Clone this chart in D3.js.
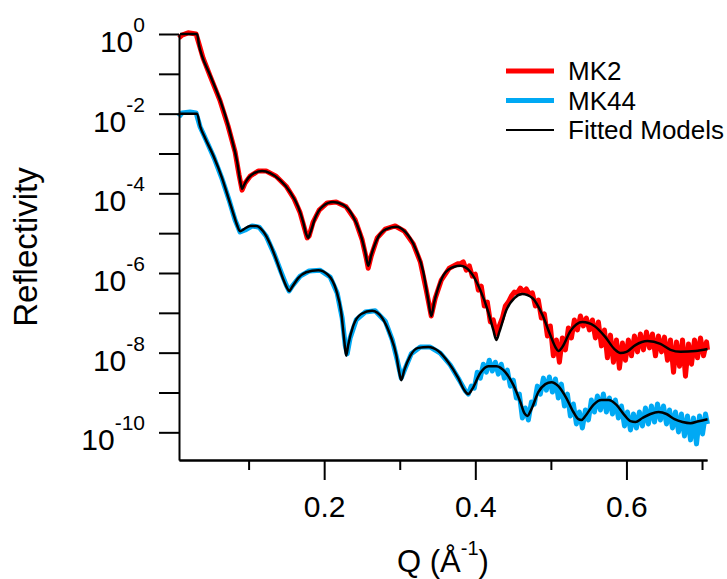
<!DOCTYPE html>
<html>
<head>
<meta charset="utf-8">
<script src="https://cdn.jsdelivr.net/npm/d3@7"></script>
<style>
body { margin: 0; background: #fff; }
text { font-family: Arial, "Liberation Sans", sans-serif; fill: #000; }
</style>
</head>
<body>
<script>
// reflectivity curves, [Q (1/A), log10 R]

var mk2Data = [[0.0079,-0.10],[0.0119,-0.03],[0.0199,0.03],[0.0305,0],[0.0344,-0.25],[0.0397,-0.60],[0.0490,-1.05],[0.0623,-1.68],[0.0728,-2.31],[0.0821,-2.96],
  [0.0874,-3.54],[0.0914,-3.92],[0.0954,-3.74],[0.1020,-3.57],[0.1126,-3.44],[0.1232,-3.44],[0.1364,-3.57],[0.1497,-3.82],[0.1603,-4.14],[0.1682,-4.49],
  [0.1735,-4.85],[0.1775,-5.12],[0.1801,-5.07],[0.1854,-4.72],[0.1934,-4.42],[0.2040,-4.24],[0.2159,-4.22],[0.2291,-4.34],[0.2411,-4.67],[0.2503,-5.17],
  [0.2556,-5.62],[0.2583,-5.88],[0.2623,-5.57],[0.2702,-5.12],[0.2808,-4.90],[0.2940,-4.82],[0.3060,-4.95],[0.3179,-5.27],[0.3272,-5.72],[0.3351,-6.43],
  [0.3417,-7.08],[0.3470,-6.63],[0.3550,-6.18],[0.3656,-5.88],[0.3762,-5.77],
  [0.3801,-5.77],[0.3841,-5.72],[0.3881,-5.93],[0.3921,-5.82],[0.3960,-6.08],[0.4000,-6.03],[0.4040,-6.43],[0.4079,-6.33],[0.4119,-6.83],[0.4159,-6.73],
  [0.4199,-7.23],[0.4238,-7.18],[0.4278,-7.53],[0.4318,-7.33],[0.4358,-7.13],[0.4397,-6.83],[0.4437,-6.73],[0.4477,-6.58],[0.4517,-6.48],[0.4556,-6.50],
  [0.4596,-6.38],[0.4636,-6.48],[0.4675,-6.40],[0.4715,-6.53],[0.4755,-6.50],[0.4795,-6.83],[0.4834,-6.68],[0.4874,-7.13],[0.4914,-7.03],[0.4954,-7.58],
  [0.4993,-7.33],[0.5033,-8.08],[0.5073,-7.68],[0.5113,-8.24],[0.5152,-7.63],[0.5192,-7.93],[0.5232,-7.38],[0.5272,-7.63],[0.5311,-7.18],[0.5351,-7.43],
  [0.5391,-7.08],[0.5430,-7.33],[0.5470,-7.13],[0.5510,-7.43],[0.5550,-7.18],[0.5589,-7.63],[0.5629,-7.23],[0.5669,-7.83],[0.5709,-7.43],[0.5748,-8.13],
  [0.5788,-7.56],[0.5828,-8.24],[0.5868,-7.68],[0.5907,-8.39],[0.5947,-7.76],[0.5987,-8.19],[0.6026,-7.68],[0.6066,-8.08],[0.6106,-7.58],[0.6146,-7.98],
  [0.6185,-7.53],[0.6225,-7.93],[0.6265,-7.48],[0.6305,-7.88],[0.6344,-7.53],[0.6384,-8.08],[0.6424,-7.58],[0.6464,-7.98],[0.6503,-7.61],[0.6543,-8.19],
  [0.6583,-7.68],[0.6623,-8.49],[0.6662,-7.73],[0.6702,-8.34],[0.6742,-7.68],[0.6781,-8.59],[0.6821,-7.78],[0.6861,-8.29],[0.6901,-7.68],[0.6940,-8.13],
  [0.6980,-7.63],[0.7020,-8.08],[0.7060,-7.73],[0.7073,-7.93]];

var mk44Data = [[0.0079,-2.08],[0.0119,-1.98],[0.0225,-1.96],[0.0305,-1.98],[0.0358,-2.33],[0.0437,-2.66],[0.0543,-3.11],[0.0649,-3.64],[0.0742,-4.17],[0.0821,-4.67],
  [0.0887,-4.97],[0.0954,-4.92],[0.1046,-4.82],[0.1139,-4.85],[0.1232,-5.07],[0.1338,-5.52],[0.1430,-5.98],[0.1497,-6.30],[0.1536,-6.45],[0.1589,-6.30],
  [0.1682,-6.08],[0.1801,-5.95],[0.1947,-5.93],[0.2079,-6.10],[0.2172,-6.50],[0.2238,-7.13],[0.2278,-7.81],[0.2305,-8.03],[0.2344,-7.63],[0.2424,-7.18],
  [0.2543,-6.98],[0.2675,-6.95],[0.2808,-7.21],[0.2901,-7.68],[0.2967,-8.19],[0.3020,-8.64],[0.3073,-8.39],[0.3152,-8.03],[0.3272,-7.86],[0.3404,-7.86],
  [0.3536,-8.01],[0.3669,-8.31],[0.3788,-8.69],[0.3868,-8.96],[0.3907,-9.04],
  [0.3947,-8.84],[0.3987,-8.89],[0.4026,-8.49],[0.4066,-8.64],[0.4106,-8.29],[0.4146,-8.49],[0.4185,-8.19],[0.4225,-8.46],[0.4265,-8.24],[0.4305,-8.54],
  [0.4344,-8.29],[0.4384,-8.64],[0.4424,-8.44],[0.4464,-8.84],[0.4503,-8.69],[0.4543,-9.14],[0.4583,-9.04],[0.4623,-9.64],[0.4662,-9.39],[0.4702,-9.69],
  [0.4742,-9.24],[0.4781,-9.29],[0.4821,-8.84],[0.4861,-9.04],[0.4901,-8.64],[0.4940,-8.94],[0.4980,-8.61],[0.5020,-8.99],[0.5060,-8.66],[0.5099,-9.14],
  [0.5139,-8.79],[0.5179,-9.34],[0.5219,-9.04],[0.5258,-9.59],[0.5298,-9.29],[0.5338,-9.79],[0.5377,-9.49],[0.5417,-9.89],[0.5457,-9.44],[0.5497,-9.69],
  [0.5536,-9.19],[0.5576,-9.49],[0.5616,-9.09],[0.5656,-9.44],[0.5695,-9.04],[0.5735,-9.49],[0.5775,-9.14],[0.5815,-9.54],[0.5854,-9.19],[0.5894,-9.64],
  [0.5934,-9.34],[0.5974,-9.84],[0.6013,-9.49],[0.6053,-9.94],[0.6093,-9.54],[0.6132,-9.89],[0.6172,-9.49],[0.6212,-9.84],[0.6252,-9.39],[0.6291,-9.79],
  [0.6331,-9.34],[0.6371,-9.74],[0.6411,-9.29],[0.6450,-9.69],[0.6490,-9.34],[0.6530,-9.79],[0.6570,-9.44],[0.6609,-9.89],[0.6649,-9.49],[0.6689,-9.99],
  [0.6728,-9.54],[0.6768,-10.09],[0.6808,-9.59],[0.6848,-10.19],[0.6887,-9.64],[0.6927,-10.29],[0.6967,-9.59],[0.7007,-10.04],[0.7046,-9.54],[0.7073,-9.79]];

var fitMk2 = [[0.0093,0],[0.0318,0],[0.0344,-0.28],[0.0384,-0.55],[0.0490,-1.03],[0.0623,-1.66],[0.0702,-2.11],[0.0781,-2.66],[0.0848,-3.21],[0.0887,-3.67],
  [0.0914,-3.89],[0.0940,-3.79],[0.0993,-3.62],[0.1073,-3.49],[0.1179,-3.44],[0.1285,-3.49],[0.1417,-3.67],[0.1550,-3.97],[0.1656,-4.34],[0.1722,-4.72],
  [0.1762,-5.02],[0.1788,-5.12],[0.1815,-5.00],[0.1881,-4.62],[0.1974,-4.34],[0.2119,-4.22],[0.2252,-4.29],[0.2371,-4.54],[0.2477,-5.00],[0.2543,-5.47],
  [0.2583,-5.82],[0.2623,-5.55],[0.2715,-5.10],[0.2821,-4.90],[0.2954,-4.84],[0.3073,-4.97],[0.3205,-5.37],[0.3311,-5.97],[0.3377,-6.68],[0.3417,-7.08],
  [0.3457,-6.73],[0.3536,-6.23],[0.3642,-5.92],[0.3801,-5.82],[0.3934,-5.97],[0.4066,-6.43],[0.4172,-6.98],[0.4238,-7.43],[0.4278,-7.68],[0.4318,-7.48],
  [0.4411,-6.93],[0.4517,-6.63],[0.4623,-6.53],[0.4755,-6.63],[0.4887,-7.05],[0.4993,-7.56],[0.5060,-7.86],[0.5099,-7.96],[0.5152,-7.86],[0.5258,-7.46],
  [0.5417,-7.23],[0.5576,-7.33],[0.5722,-7.61],[0.5841,-7.91],[0.5921,-8.01],[0.6000,-7.98],[0.6119,-7.81],[0.6278,-7.71],[0.6450,-7.78],[0.6583,-7.93],
  [0.6715,-7.98],[0.6914,-7.96],[0.7073,-7.91]];

var fitMk44 = [[0.0093,-2.0],[0.0318,-2.0],[0.0358,-2.31],[0.0424,-2.61],[0.0530,-3.04],[0.0649,-3.62],[0.0728,-4.09],[0.0795,-4.49],[0.0848,-4.80],[0.0887,-4.95],
  [0.0940,-4.90],[0.1020,-4.82],[0.1099,-4.82],[0.1192,-4.95],[0.1285,-5.27],[0.1377,-5.72],[0.1457,-6.15],[0.1510,-6.38],[0.1536,-6.45],[0.1576,-6.35],
  [0.1656,-6.13],[0.1762,-5.98],[0.1921,-5.93],[0.2053,-6.05],[0.2159,-6.43],[0.2225,-6.98],[0.2265,-7.68],[0.2291,-8.08],[0.2318,-7.81],[0.2384,-7.33],
  [0.2490,-7.03],[0.2636,-6.95],[0.2768,-7.13],[0.2874,-7.56],[0.2954,-8.06],[0.2993,-8.49],[0.3020,-8.69],[0.3060,-8.44],[0.3139,-8.08],[0.3245,-7.88],
  [0.3377,-7.86],[0.3510,-7.96],[0.3642,-8.24],[0.3775,-8.64],[0.3854,-8.94],[0.3907,-9.04],[0.3960,-8.91],[0.4066,-8.51],[0.4172,-8.34],[0.4278,-8.34],
  [0.4397,-8.49],[0.4503,-8.81],[0.4596,-9.24],[0.4649,-9.52],[0.4689,-9.59],[0.4742,-9.42],[0.4834,-8.99],[0.4927,-8.79],[0.5007,-8.74],[0.5099,-8.84],
  [0.5205,-9.14],[0.5298,-9.49],[0.5364,-9.67],[0.5404,-9.69],[0.5457,-9.59],[0.5563,-9.31],[0.5669,-9.19],[0.5762,-9.19],[0.5868,-9.31],[0.5974,-9.57],
  [0.6053,-9.72],[0.6119,-9.74],[0.6212,-9.64],[0.6318,-9.54],[0.6424,-9.49],[0.6530,-9.54],[0.6636,-9.67],[0.6742,-9.74],[0.6848,-9.77],[0.6954,-9.72],
  [0.7073,-9.67]];

var yDecades = [0,-1,-2,-3,-4,-5,-6,-7,-8,-9,-10];
var yLabelExp = [0,-2,-4,-6,-8,-10];
var xMajor = [0.2, 0.4, 0.6];
var xMinor = [0.1, 0.3, 0.5, 0.7];
var seriesNames = ["MK2", "MK44", "Fitted Models"];
var seriesColors = ["#ff0000", "#00a9f4", "#000000"];

var width = 727, height = 579;

var svg = d3.select("body").append("svg")
    .attr("width", width)
    .attr("height", height);

var x = d3.scaleLinear().domain([0.0079, 0.7066]).range([179, 707]);
var y = d3.scaleLog().domain([Math.pow(10, -10.695), 1]).range([460, 34]);

function toPoint(d) { return {q: d[0], r: Math.pow(10, d[1])}; }

var dataLine = d3.line()
    .x(function(d) { return x(d.q); })
    .y(function(d) { return y(d.r); });

var fitLine = d3.line()
    .curve(d3.curveMonotoneX)
    .x(function(d) { return x(d.q); })
    .y(function(d) { return y(d.r); });

// measured data (thick), then models on top
svg.append("path").datum(mk2Data.map(toPoint))
    .attr("d", dataLine).attr("fill", "none")
    .attr("stroke", seriesColors[0]).attr("stroke-width", 5).attr("stroke-linejoin", "round");
svg.append("path").datum(mk44Data.map(toPoint))
    .attr("d", dataLine).attr("fill", "none")
    .attr("stroke", seriesColors[1]).attr("stroke-width", 5).attr("stroke-linejoin", "round");

[fitMk2, fitMk44].forEach(function(f) {
  svg.append("path").datum(f.map(toPoint))
      .attr("d", fitLine).attr("fill", "none")
      .attr("stroke", "#000").attr("stroke-width", 2.5);
});

// y axis
var yAxis = d3.axisLeft(y)
    .tickValues(yDecades.map(function(e) { return Math.pow(10, e); }))
    .tickSize(20).tickSizeOuter(0).tickFormat("");
var gy = svg.append("g").attr("transform", "translate(179,0)").call(yAxis);
gy.selectAll("path, line").attr("stroke", "#000").attr("stroke-width", 2);

yLabelExp.forEach(function(e) {
  var t = svg.append("text")
      .attr("x", 145)
      .attr("y", y(Math.pow(10, e)) + 18)
      .attr("text-anchor", "end")
      .style("font-size", "30px");
  t.append("tspan").text("10");
  t.append("tspan").attr("dy", -20).style("font-size", "21px").text(e);
});

// x axis, major + minor ticks
var xAxis = d3.axisBottom(x).tickValues(xMajor)
    .tickSize(20).tickSizeOuter(0).tickPadding(16)
    .tickFormat(d3.format(".1f"));
var gx = svg.append("g").attr("transform", "translate(0,460)").call(xAxis);
var gxm = svg.append("g").attr("transform", "translate(0,460)")
    .call(d3.axisBottom(x).tickValues(xMinor).tickSize(10).tickSizeOuter(0).tickFormat(""));
svg.selectAll(".domain, .tick line").attr("stroke", "#000").attr("stroke-width", 2);
gx.selectAll("text").style("font-size", "30px").style("font-family", "Arial, 'Liberation Sans', sans-serif").attr("fill", "#000");

// axis titles
svg.append("text")
    .attr("transform", "translate(37,247) rotate(-90)")
    .attr("text-anchor", "middle")
    .style("font-size", "33px")
    .text("Reflectivity");

var xt = svg.append("text")
    .attr("x", 443).attr("y", 572)
    .attr("text-anchor", "middle")
    .style("font-size", "31px");
xt.append("tspan").text("Q (Å");
xt.append("tspan").attr("dy", -17).style("font-size", "20px").text("-1");
xt.append("tspan").attr("dy", 17).text(")");

// legend
var legend = svg.append("g");
seriesNames.forEach(function(name, i) {
  var ly = 71 + i * 29.5;
  legend.append("line")
      .attr("x1", 506).attr("x2", 554).attr("y1", ly).attr("y2", ly)
      .attr("stroke", seriesColors[i]).attr("stroke-width", i < 2 ? 5 : 2);
  legend.append("text")
      .attr("x", 568).attr("y", ly + 9)
      .style("font-size", "26px")
      .text(name);
});
</script>
</body>
</html>
